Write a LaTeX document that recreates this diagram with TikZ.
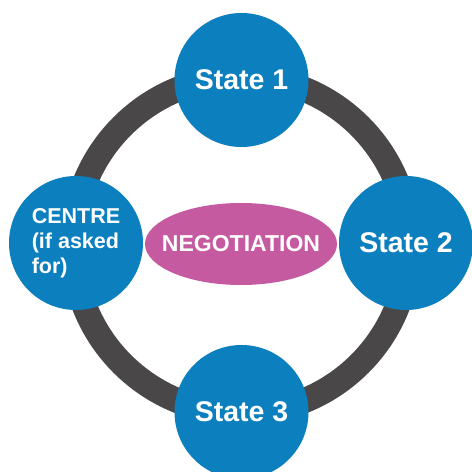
\documentclass[tikz,border=0pt]{standalone}
\usepackage{fontspec}
\setmainfont{Liberation Sans}
\usetikzlibrary{shapes.geometric}
\definecolor{ringgrey}{RGB}{74,71,72}
\definecolor{stateblue}{RGB}{12,127,190}
\definecolor{negpink}{RGB}{198,90,160}
\tikzset{
  x=1pt, y=1pt,
  party/.style={circle, fill=stateblue, minimum size=134pt, inner sep=0pt,
    text=white, font=\bfseries\fontsize{28.5}{32}\selectfont},
  hub/.style={ellipse, fill=negpink, minimum width=192pt, minimum height=82pt,
    inner xsep=-45pt, inner ysep=0pt, text=white,
    font=\bfseries\fontsize{23}{26}\selectfont},
  loop/.style={draw=ringgrey, line width=25pt}
}
\begin{document}
\begin{tikzpicture}
  \useasboundingbox (0,0) rectangle (472,472);
  \clip (0,0) rectangle (472,472);
  \fill[white] (0,0) rectangle (472,472);
  % the ring linking all parties
  \coordinate (mid) at (241,227);
  \draw[loop] (mid) circle[radius=168];
  % parties on the ring
  \node[party] (s1) at (241.5,392) {State 1};
  \node[party] (s2) at (406,229) {State 2};
  \node[party] (s3) at (241.5,60) {State 3};
  \node[party, align=left, font=\bfseries\fontsize{21.5}{25}\selectfont] (centre) at (76,229)
    {CENTRE\\(if asked\\for)};
  % negotiation in the middle
  \node[hub] (neg) at (241,228) {NEGOTIATION};
\end{tikzpicture}
\end{document}
